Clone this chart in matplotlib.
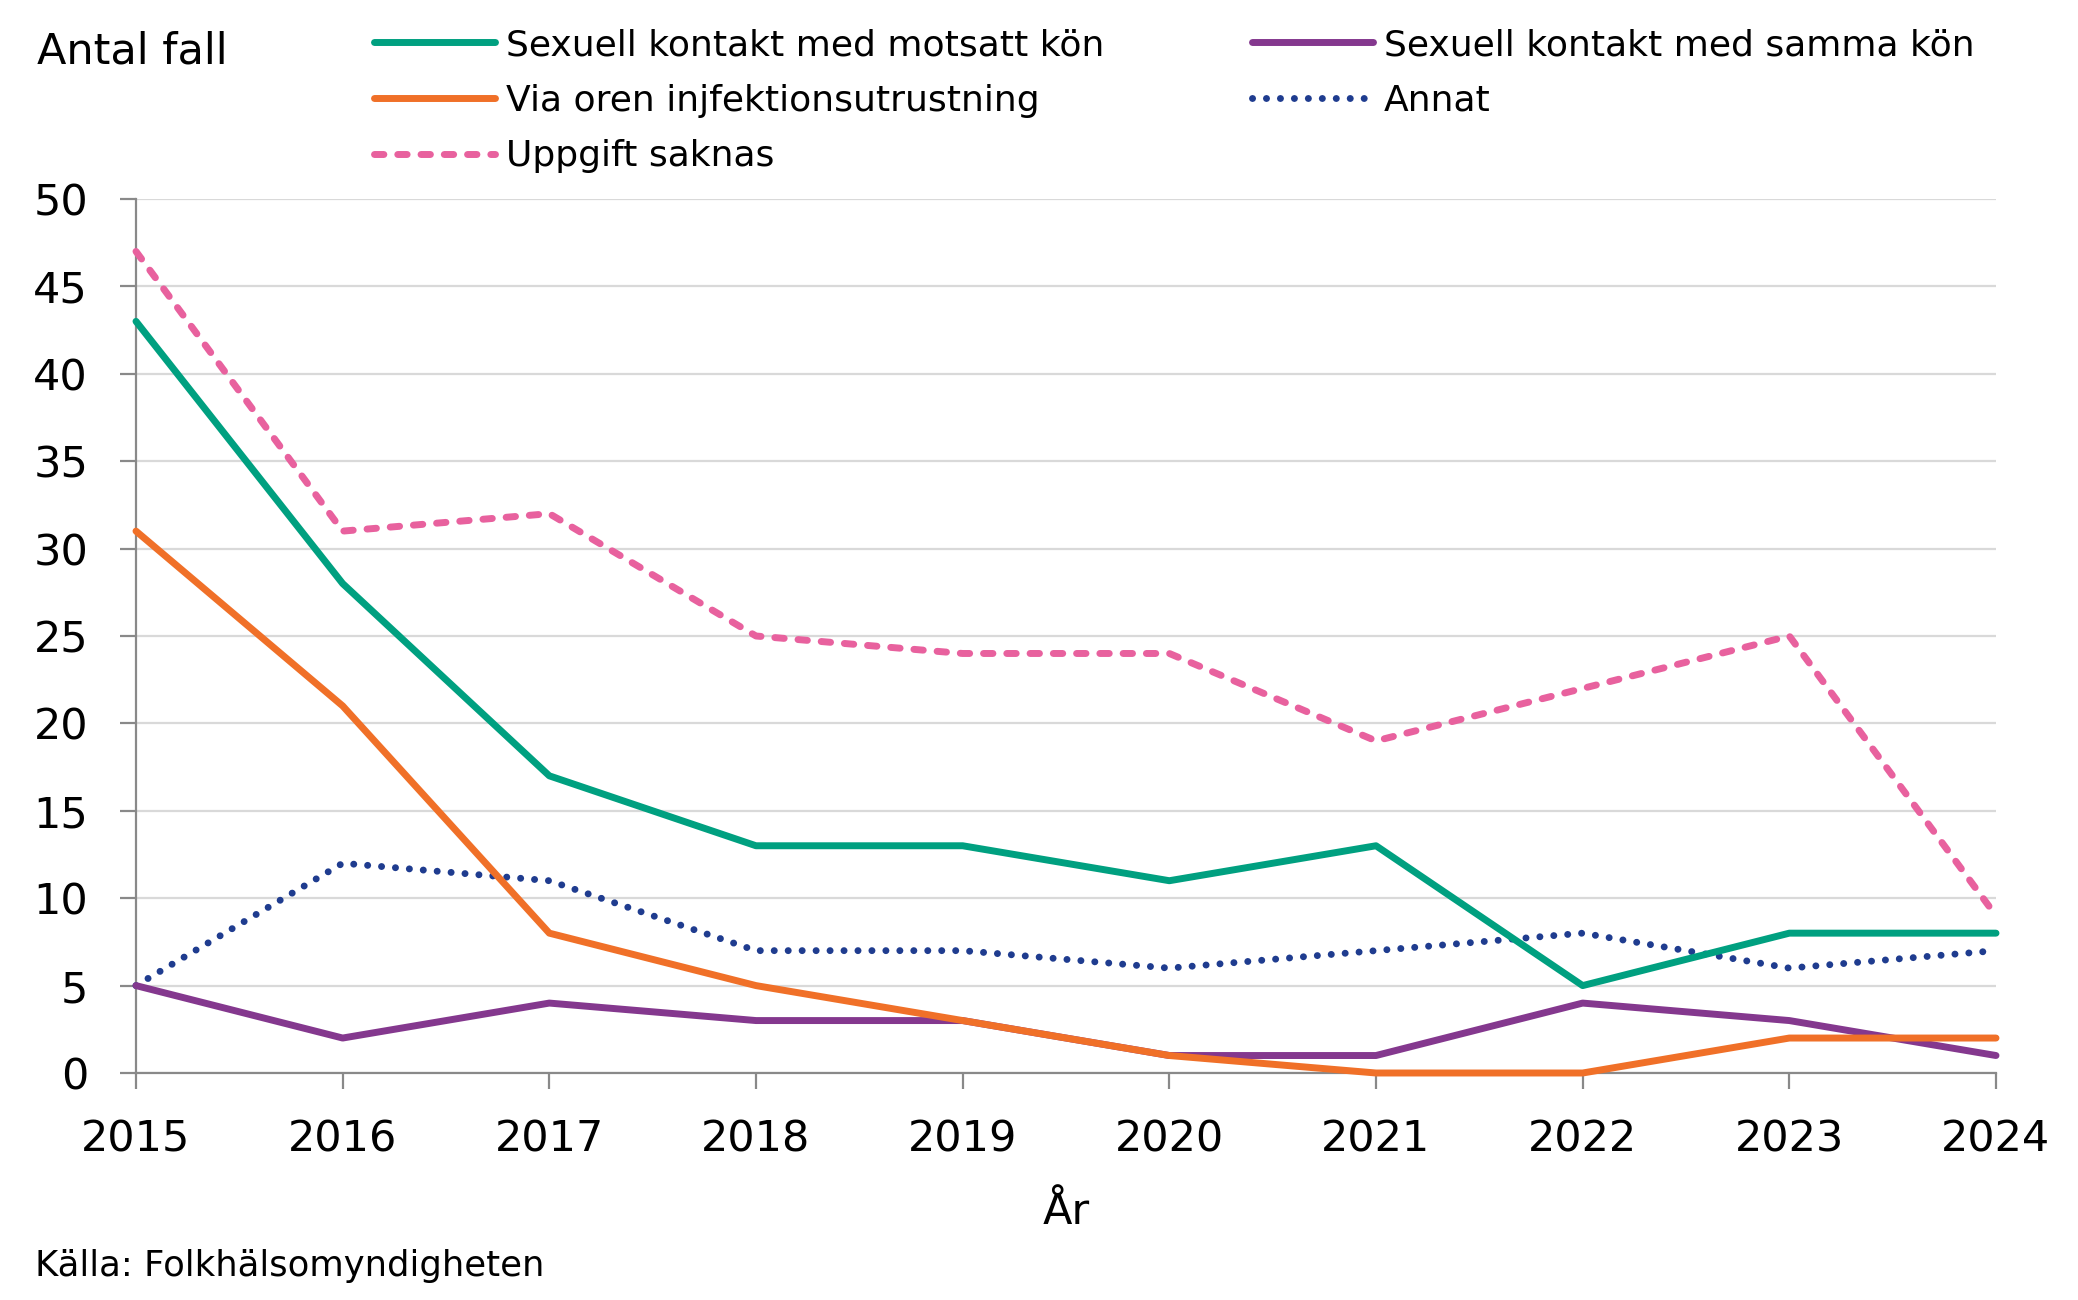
import matplotlib
matplotlib.use("Agg")
import matplotlib.pyplot as plt
from matplotlib.ticker import MultipleLocator

years = [2015, 2016, 2017, 2018, 2019, 2020, 2021, 2022, 2023, 2024]
motsatt = [43, 28, 17, 13, 13, 11, 13, 5, 8, 8]
samma = [5, 2, 4, 3, 3, 1, 1, 4, 3, 1]
injektion = [31, 21, 8, 5, 3, 1, 0, 0, 2, 2]
annat = [5, 12, 11, 7, 7, 6, 7, 8, 6, 7]
saknas = [47, 31, 32, 25, 24, 24, 19, 22, 25, 9]

labels = ["Sexuell kontakt med motsatt kön", "Via oren injfektionsutrustning",
          "Uppgift saknas", "Sexuell kontakt med samma kön", "Annat"]

plt.rcParams['font.family'] = ['DejaVu Sans']

W, H = 2078, 1300
fig = plt.figure(figsize=(W / 100, H / 100), dpi=100)
ax = fig.add_axes([136 / W, 1 - 1073 / H, (1996 - 136) / W, (1073 - 199) / H])

lw = 5.0
common = dict(lw=lw, clip_on=False, solid_capstyle="round", dash_capstyle="round")
l1, = ax.plot(years, motsatt, color="#00A080", zorder=5, **common)
l4, = ax.plot(years, samma, color="#84388E", zorder=4, **common)
l2, = ax.plot(years, injektion, color="#F07028", zorder=6, **common)
l5, = ax.plot(years, annat, color="#1F3C8F", ls=(0, (0.01, 2.0)), zorder=3, **common)
l3, = ax.plot(years, saknas, color="#E8619E", ls=(0, (1.35, 2.0)), zorder=3, **common)

ax.set_xlim(2015, 2024)
ax.set_ylim(0, 50)
ax.yaxis.set_major_locator(MultipleLocator(5))
ax.set_xticks(years)
ax.grid(axis="y", color="#D9D9D9", lw=1.6)
ax.set_axisbelow(True)
for s in ["top", "right"]:
    ax.spines[s].set_visible(False)
for s in ["left", "bottom"]:
    ax.spines[s].set_color("#898989")
    ax.spines[s].set_linewidth(1.6)
ax.tick_params(axis="x", length=11.5, width=1.6, color="#898989", labelsize=31, pad=21)
ax.tick_params(axis="y", length=11.5, width=1.6, color="#898989", labelsize=31, pad=23)

ax.set_xlabel("År", fontsize=31, labelpad=22)

fig.text(37 / W, 1 - 51 / H, "Antal fall", fontsize=31, va="center", ha="left")
fig.text(35 / W, 1 - 1266 / H, "Källa: Folkhälsomyndigheten", fontsize=25.5, va="center", ha="left")

fig.legend([l1, l2, l3, l4, l5], labels, ncol=2, loc="upper left",
           bbox_to_anchor=(374 / W, 1 - 28 / H), frameon=False, fontsize=26,
           handlelength=3.35, handletextpad=0.3, columnspacing=4.1,
           labelspacing=0.6, borderpad=0, borderaxespad=0)

fig.savefig("out.png", dpi=100, facecolor="white")
